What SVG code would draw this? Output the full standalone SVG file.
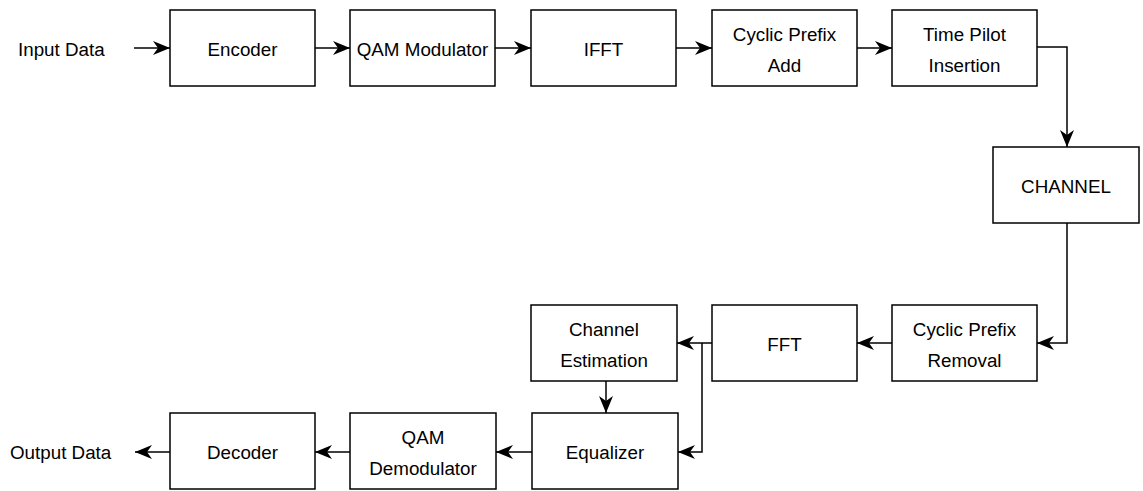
<svg xmlns="http://www.w3.org/2000/svg" width="1143" height="491" viewBox="0 0 1143 491">
<defs>
<marker id="arr" viewBox="0 0 17 14" refX="17" refY="7" markerWidth="17" markerHeight="14" markerUnits="userSpaceOnUse" orient="auto">
<path d="M0,0 L17,7 L0,14 L5,7 Z" fill="#000"/>
</marker>
<style>
.box{fill:#fff;stroke:#000;stroke-width:1.5}
.t{font-family:"Liberation Sans",Arial,sans-serif;font-size:18.8px;fill:#000;text-anchor:middle}
.lbl{font-family:"Liberation Sans",Arial,sans-serif;font-size:18.8px;fill:#000}
.c{fill:none;stroke:#000;stroke-width:1.5}
</style>
</defs>
<rect width="1143" height="491" fill="#fff"/>
<text class="lbl" x="18" y="55.5">Input Data</text>
<text class="lbl" x="10" y="459">Output Data</text>
<g id="encoder"><rect class="box" x="170" y="10" width="145" height="76"/><text class="t" x="242.5" y="55.5">Encoder</text></g>
<g id="qam-mod"><rect class="box" x="350" y="10" width="145" height="76"/><text class="t" x="422.5" y="55.5">QAM Modulator</text></g>
<g id="ifft"><rect class="box" x="531" y="10" width="145" height="76"/><text class="t" x="603.5" y="55.5">IFFT</text></g>
<g id="cp-add"><rect class="box" x="712" y="10" width="145" height="76"/><text class="t" x="784.5" y="41">Cyclic Prefix</text><text class="t" x="784.5" y="72">Add</text></g>
<g id="tp-ins"><rect class="box" x="892" y="10" width="145" height="76"/><text class="t" x="964.5" y="41">Time Pilot</text><text class="t" x="964.5" y="72">Insertion</text></g>
<g id="channel"><rect class="box" x="993" y="147" width="146" height="76"/><text class="t" x="1066" y="192.5">CHANNEL</text></g>
<g id="cp-rem"><rect class="box" x="892" y="305" width="145" height="76"/><text class="t" x="964.5" y="336">Cyclic Prefix</text><text class="t" x="964.5" y="367">Removal</text></g>
<g id="fft"><rect class="box" x="712" y="305" width="145" height="76"/><text class="t" x="784.5" y="350.5">FFT</text></g>
<g id="ch-est"><rect class="box" x="531" y="305" width="146" height="76"/><text class="t" x="604" y="336">Channel</text><text class="t" x="604" y="367">Estimation</text></g>
<g id="equalizer"><rect class="box" x="532" y="413" width="146" height="76"/><text class="t" x="605" y="458.5">Equalizer</text></g>
<g id="qam-demod"><rect class="box" x="350" y="413" width="146" height="76"/><text class="t" x="423" y="444">QAM</text><text class="t" x="423" y="475">Demodulator</text></g>
<g id="decoder"><rect class="box" x="170" y="413" width="145" height="76"/><text class="t" x="242.5" y="458.5">Decoder</text></g>
<g id="connectors">
<path class="c" d="M134,48 H170" marker-end="url(#arr)"/>
<path class="c" d="M315,48 H350" marker-end="url(#arr)"/>
<path class="c" d="M495,48 H531" marker-end="url(#arr)"/>
<path class="c" d="M676,48 H712" marker-end="url(#arr)"/>
<path class="c" d="M857,48 H892" marker-end="url(#arr)"/>
<path class="c" d="M1037,47 H1067 V147" marker-end="url(#arr)"/>
<path class="c" d="M1067,223 V343 H1037" marker-end="url(#arr)"/>
<path class="c" d="M892,343 H857" marker-end="url(#arr)"/>
<path class="c" d="M712,343 H677" marker-end="url(#arr)"/>
<path class="c" d="M702,343 V452 H678" marker-end="url(#arr)"/>
<path class="c" d="M606,381 V413" marker-end="url(#arr)"/>
<path class="c" d="M532,452 H496" marker-end="url(#arr)"/>
<path class="c" d="M350,452 H315" marker-end="url(#arr)"/>
<path class="c" d="M170,452 H135" marker-end="url(#arr)"/>
</g>
</svg>
